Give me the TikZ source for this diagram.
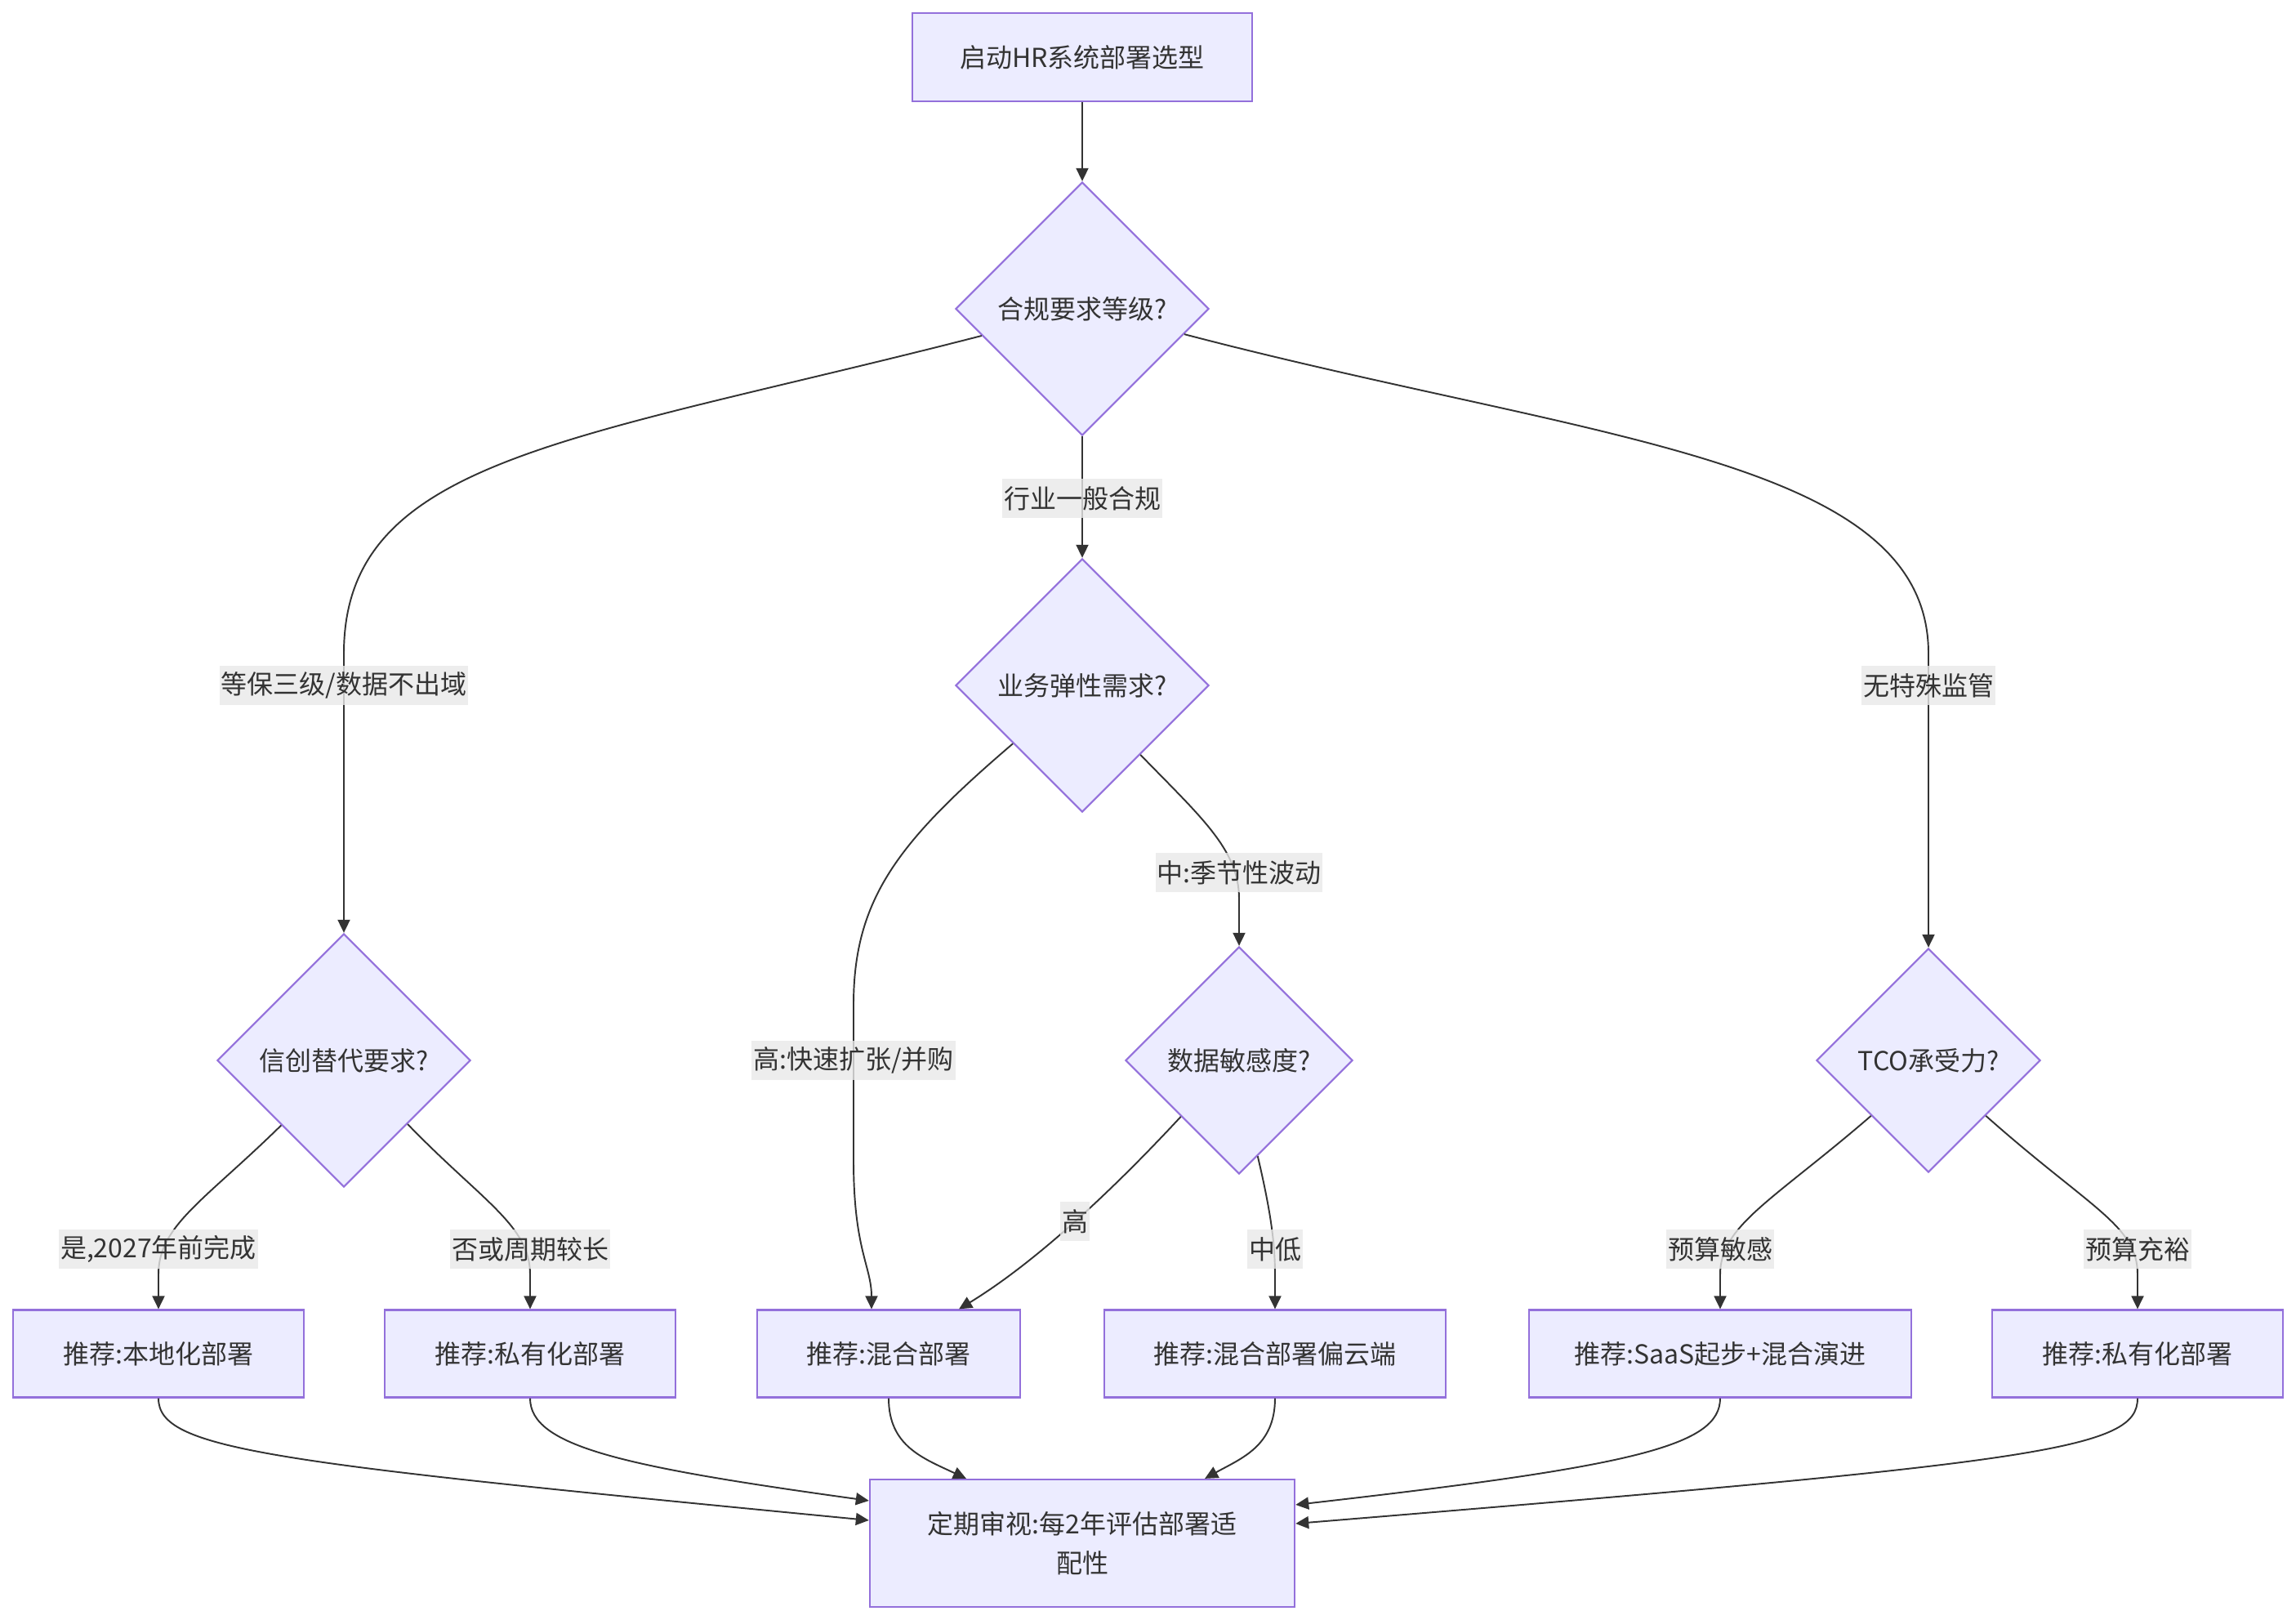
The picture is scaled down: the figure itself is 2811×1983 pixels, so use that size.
\documentclass[tikz,border=0pt]{standalone}
\usepackage{fontspec}
\usepackage{xcolor}
\usepackage{tikz}
\usetikzlibrary{
  arrows.meta,
  shapes.geometric
}
\newfontfamily\cjkfont{Noto Sans CJK SC}
\definecolor{hrFill}{HTML}{ECECFF}
\definecolor{hrDraw}{HTML}{9370DB}
\definecolor{hrLine}{HTML}{333333}
\definecolor{hrTag}{HTML}{E8E8E8}
\definecolor{hrText}{HTML}{333333}
\tikzset{
  hrnode/.style={
    draw=hrDraw, fill=hrFill, line width=0.6pt, text=hrText,
    font=\cjkfont\fontsize{9.1}{13.7}\selectfont, align=center, inner sep=0pt
  },
  hrbox/.style={hrnode, rectangle, minimum height=1.07cm},
  hrdec/.style={hrnode, diamond, aspect=1, minimum width=3.1cm, minimum height=3.1cm},
  hrflow/.style={-{Triangle[length=0.16cm, width=0.15cm]}, line width=0.55pt, draw=hrLine},
  hrtag/.style={
    fill=hrTag, fill opacity=0.8, text opacity=1, text=hrText,
    font=\cjkfont\fontsize{9.1}{13.7}\selectfont,
    inner xsep=0.02cm, inner ysep=0pt, minimum height=0.47cm
  }
}

\begin{document}
\begin{tikzpicture}[x=0.01cm, y=-0.01cm]
  \useasboundingbox (0,0) rectangle (2811,1983);
  % decisions and outcomes
  \node[hrbox, minimum width=4.16cm, minimum height=1.08cm] (start) at (1325,70) {启动HR系统部署选型};
  \node[hrdec] (comp) at (1325,378) {合规要求等级?};
  \node[hrdec] (elas) at (1325,839) {业务弹性需求?};
  \node[hrdec] (xc) at (421,1298) {信创替代要求?};
  \node[hrdec, minimum width=2.78cm, minimum height=2.78cm] (sens) at (1517,1298) {数据敏感度?};
  \node[hrdec, minimum width=2.74cm, minimum height=2.74cm] (tco) at (2361,1298) {TCO承受力?};
  \node[hrbox, minimum width=3.55cm] (local) at (194,1657) {推荐:本地化部署};
  \node[hrbox, minimum width=3.55cm] (priv1) at (649,1657) {推荐:私有化部署};
  \node[hrbox, minimum width=3.22cm] (hyb) at (1088,1657) {推荐:混合部署};
  \node[hrbox, minimum width=4.17cm] (cloud) at (1561,1657) {推荐:混合部署偏云端};
  \node[hrbox, minimum width=4.67cm] (saas) at (2106,1657) {推荐:SaaS起步+混合演进};
  \node[hrbox, minimum width=3.55cm] (priv2) at (2617,1657) {推荐:私有化部署};
  \node[hrbox, minimum width=5.20cm, minimum height=1.56cm] (review) at (1325,1889) {定期审视:每2年评估部署适\\配性};

  % flows
  \draw[hrflow] (start) -- (comp);
  \draw[hrflow] (comp) -- (elas);
  \draw[hrflow] (comp.195) .. controls (700,540) and (421,560) .. (421,800) -- (xc.north);
  \draw[hrflow] (comp.346) .. controls (1950,540) and (2361,560) .. (2361,800) -- (tco.north);
  \draw[hrflow] (elas.220) .. controls (1100,1030) and (1045,1100) .. (1045,1230) -- (1045,1420)
    .. controls (1045,1530) and (1067,1550) .. ([xshift=-0.21cm]hyb.north);
  \draw[hrflow] (elas.310) .. controls (1470,1000) and (1517,1040) .. (1517,1100) -- (sens.north);
  \draw[hrflow] (sens.224) .. controls (1350,1470) and (1260,1550) .. ([xshift=0.86cm]hyb.north);
  \draw[hrflow] (sens.281) .. controls (1555,1480) and (1561,1520) .. (1561,1560) -- (cloud.north);
  \draw[hrflow] (xc.226) .. controls (250,1470) and (194,1500) .. (194,1560) -- (local.north);
  \draw[hrflow] (xc.315) .. controls (590,1470) and (649,1500) .. (649,1560) -- (priv1.north);
  \draw[hrflow] (tco.224) .. controls (2170,1470) and (2106,1500) .. (2106,1560) -- (saas.north);
  \draw[hrflow] (tco.316) .. controls (2560,1480) and (2617,1500) .. (2617,1560) -- (priv2.north);
  \draw[hrflow] (local.south) .. controls (194,1775) and (330,1790) .. ([yshift=0.28cm]review.west);
  \draw[hrflow] (priv1.south) .. controls (649,1770) and (760,1795) .. ([yshift=0.52cm]review.west);
  \draw[hrflow] (hyb.south) .. controls (1088,1770) and (1130,1785) .. ([xshift=-1.42cm]review.north);
  \draw[hrflow] (cloud.south) .. controls (1561,1770) and (1520,1785) .. ([xshift=1.50cm]review.north);
  \draw[hrflow] (saas.south) .. controls (2106,1770) and (2000,1795) .. ([yshift=0.47cm]review.east);
  \draw[hrflow] (priv2.south) .. controls (2617,1775) and (2500,1790) .. ([yshift=0.24cm]review.east);

  % edge tags
  \node[hrtag] (t1) at (1325,610) {行业一般合规};
  \node[hrtag] (t2) at (421,839) {等保三级/数据不出域};
  \node[hrtag] (t3) at (2361,839) {无特殊监管};
  \node[hrtag] (t4) at (1045,1298) {高:快速扩张/并购};
  \node[hrtag] (t5) at (1517,1068) {中:季节性波动};
  \node[hrtag] (t6) at (1316,1495) {高};
  \node[hrtag] (t7) at (1561,1529) {中低};
  \node[hrtag] (t8) at (194,1529) {是,2027年前完成};
  \node[hrtag] (t9) at (649,1529) {否或周期较长};
  \node[hrtag] (t10) at (2106,1529) {预算敏感};
  \node[hrtag] (t11) at (2617,1529) {预算充裕};
\end{tikzpicture}
\end{document}
